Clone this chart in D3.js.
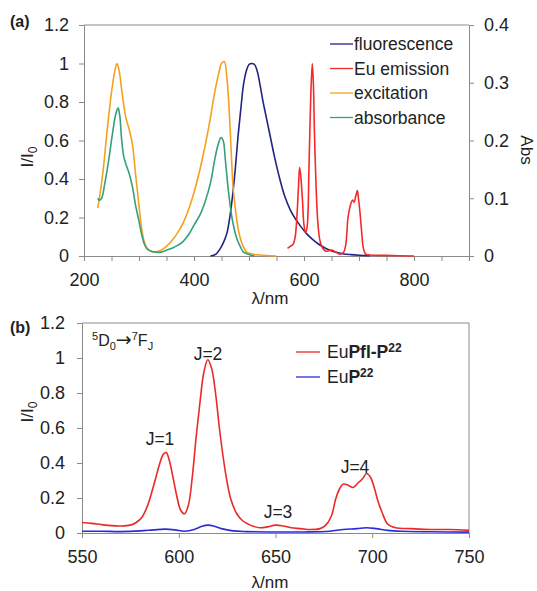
<!DOCTYPE html>
<meta charset="utf-8">
<script src="https://d3js.org/d3.v7.min.js"></script>
<style>
  body { margin: 0; background: #fff; }
  text { font-family: "Liberation Sans", Arial, sans-serif; fill: #222; }
</style>
<div id="my_dataviz"></div>
<script>

// ---- data ----
// panel (a): [wavelength nm, I/I0]
var fluorescence = [[430,0],[440,0.01],[448,0.04],[455,0.08],[460,0.12],[465,0.2],[470,0.31],[475,0.45],[480,0.62],[485,0.76],[490,0.89],[495,0.96],[500,0.995],[505,1.0],[510,0.995],[515,0.96],[520,0.89],[525,0.81],[530,0.74],[538,0.63],[546,0.52],[556,0.4],[565,0.31],[575,0.24],[585,0.19],[595,0.15],[605,0.115],[615,0.088],[625,0.065],[635,0.047],[645,0.032],[655,0.022],[670,0.012],[685,0.007],[700,0.004],[720,0.002]];
var euEmission = [[570,0.04],[575,0.05],[580,0.06],[584,0.1],[587,0.2],[590,0.36],[592,0.46],[594,0.42],[597,0.3],[600,0.16],[603,0.12],[606,0.16],[609,0.45],[612,0.8],[615,1.0],[617,0.9],[619,0.64],[622,0.36],[625,0.18],[629,0.08],[634,0.04],[640,0.025],[648,0.03],[652,0.03],[658,0.02],[665,0.01],[672,0.02],[676,0.06],[680,0.2],[684,0.26],[688,0.29],[691,0.28],[694,0.31],[697,0.34],[699,0.3],[702,0.22],[705,0.12],[708,0.04],[712,0.01],[720,0.005],[750,0.003],[800,0]];
var excitation = [[225,0.25],[228,0.3],[235,0.45],[242,0.65],[250,0.85],[256,0.96],[260,1.0],[264,0.96],[270,0.83],[276,0.72],[282,0.66],[288,0.58],[294,0.42],[300,0.26],[305,0.14],[310,0.07],[315,0.04],[322,0.025],[330,0.02],[340,0.03],[350,0.05],[360,0.08],[370,0.12],[380,0.17],[390,0.24],[400,0.33],[410,0.44],[420,0.57],[430,0.72],[437,0.84],[445,0.95],[450,1.0],[455,1.01],[460,0.92],[465,0.7],[468,0.52],[471,0.36],[475,0.25],[481,0.13],[488,0.06],[496,0.02],[505,0.01],[520,0.005],[550,0]];
var absorbance = [[225,0.3],[228,0.29],[232,0.3],[238,0.38],[245,0.5],[252,0.64],[258,0.74],[262,0.77],[265,0.73],[268,0.62],[272,0.52],[277,0.47],[282,0.43],[288,0.36],[294,0.26],[300,0.18],[305,0.11],[310,0.06],[315,0.035],[322,0.025],[330,0.02],[340,0.02],[350,0.03],[360,0.04],[370,0.055],[380,0.075],[390,0.11],[400,0.16],[412,0.22],[420,0.28],[430,0.38],[437,0.49],[443,0.57],[449,0.615],[453,0.6],[457,0.5],[461,0.38],[465,0.28],[469,0.2],[474,0.13],[478,0.09],[484,0.05],[490,0.02],[500,0.008],[510,0]];

// panel (b)
var euPflP22 = [[550,0.06],[555,0.055],[560,0.048],[565,0.042],[570,0.04],[575,0.045],[578,0.06],[581,0.09],[584,0.16],[587,0.27],[590,0.39],[592,0.45],[593.5,0.46],[595,0.42],[597,0.32],[599,0.21],[601,0.13],[603,0.11],[605,0.16],[607,0.32],[609,0.55],[611,0.75],[613,0.92],[615,0.99],[617,0.94],[619,0.8],[621,0.6],[623,0.43],[625,0.29],[627,0.19],[630,0.11],[633,0.07],[637,0.045],[642,0.03],[646,0.035],[650,0.045],[654,0.04],[658,0.03],[663,0.025],[668,0.02],[673,0.025],[676,0.045],[679,0.1],[681,0.19],[683,0.25],[685,0.28],[688,0.27],[690,0.26],[693,0.29],[695,0.31],[697,0.34],[699,0.32],[701,0.26],[703,0.18],[705,0.12],[708,0.05],[712,0.03],[720,0.025],[730,0.02],[740,0.02],[750,0.015]];
var euP22 = [[550,0.01],[560,0.01],[570,0.008],[580,0.012],[587,0.018],[593,0.022],[598,0.018],[603,0.01],[608,0.02],[612,0.038],[615,0.045],[618,0.04],[622,0.025],[628,0.012],[635,0.008],[650,0.006],[665,0.006],[678,0.01],[685,0.02],[692,0.025],[697,0.03],[702,0.025],[708,0.015],[715,0.01],[730,0.007],[750,0.005]];

var topLegend = ["fluorescence", "Eu emission", "excitation", "absorbance"];
var topColors = ["#232385", "#f52a2a", "#f4a21e", "#34a07c"];
var yTicks = [0, 0.2, 0.4, 0.6, 0.8, 1, 1.2];
var absTicks = [0, 0.1, 0.2, 0.3, 0.4];
var xTicksA = d3.range(200, 901, 50);
var xLabelsA = [200, 400, 600, 800];
var xTicksB = [550, 600, 650, 700, 750];

var width = 537, height = 591;
var svg = d3.select("#my_dataviz").append("svg")
    .attr("width", width).attr("height", height);

var grey = "#8a8a8a";
function styleAxis(g) {
  g.selectAll("path, line").attr("stroke", grey);
  g.selectAll("text").attr("font-size", 18).attr("fill", "#222")
    .style("font-family", "Liberation Sans, Arial, sans-serif");
}

// ===== panel (a) =====
var xA = d3.scaleLinear().domain([200, 900]).range([84, 469]);
var yA = d3.scaleLinear().domain([0, 1.2]).range([256, 25]);
var yAbs = d3.scaleLinear().domain([0, 0.4]).range([256, 25]);

svg.append("line").attr("x1", 84).attr("x2", 469).attr("y1", 25).attr("y2", 25).attr("stroke", grey);

svg.append("g").attr("transform", "translate(0,256)")
  .call(d3.axisBottom(xA).tickValues(xTicksA).tickSize(5).tickSizeOuter(0).tickPadding(12)
    .tickFormat(function(d){ return xLabelsA.indexOf(d) >= 0 ? d : ""; }))
  .call(styleAxis);
svg.append("g").attr("transform", "translate(84,0)")
  .call(d3.axisLeft(yA).tickValues(yTicks).tickSize(5).tickSizeOuter(0).tickPadding(10)
    .tickFormat(d3.format("~g")))
  .call(styleAxis);
svg.append("g").attr("transform", "translate(469,0)")
  .call(d3.axisRight(yAbs).tickValues(absTicks).tickSize(5).tickSizeOuter(0).tickPadding(10)
    .tickFormat(d3.format("~g")))
  .call(styleAxis);

var lineA = d3.line().x(function(d){ return xA(d[0]); }).y(function(d){ return yA(d[1]); })
  .curve(d3.curveCatmullRom);

[fluorescence, euEmission, excitation, absorbance].forEach(function(s, i) {
  svg.append("path").datum(s).attr("d", lineA)
    .attr("fill", "none").attr("stroke", topColors[i]).attr("stroke-width", 1.6)
    .attr("stroke-linejoin", "round");
});

topLegend.forEach(function(name, i) {
  var yy = 44 + i * 24.5;
  svg.append("line").attr("x1", 330).attr("x2", 353).attr("y1", yy).attr("y2", yy)
    .attr("stroke", topColors[i]).attr("stroke-width", 1.3);
  svg.append("text").attr("x", 354).attr("y", yy + 6).attr("font-size", 17.5).text(name);
});

svg.append("text").attr("x", 10).attr("y", 27).attr("font-size", 16).attr("font-weight", "bold").text("(a)");
svg.append("text").attr("x", 270).attr("y", 304).attr("font-size", 17).attr("text-anchor", "middle").text("λ/nm");
var yl = svg.append("text").attr("transform", "translate(33,157) rotate(-90)")
  .attr("font-size", 17).attr("text-anchor", "middle");
yl.append("tspan").text("I/I");
yl.append("tspan").attr("font-size", 12).attr("dy", 4).text("0");
svg.append("text").attr("transform", "translate(521,150) rotate(90)")
  .attr("font-size", 17).attr("text-anchor", "middle").text("Abs");

// ===== panel (b) =====
var xB = d3.scaleLinear().domain([550, 750]).range([82, 469]);
var yB = d3.scaleLinear().domain([0, 1.2]).range([533, 323]);

svg.append("line").attr("x1", 82).attr("x2", 469).attr("y1", 323).attr("y2", 323).attr("stroke", grey);
svg.append("line").attr("x1", 469).attr("x2", 469).attr("y1", 323).attr("y2", 533).attr("stroke", grey);

svg.append("g").attr("transform", "translate(0,533)")
  .call(d3.axisBottom(xB).tickValues(xTicksB).tickSize(5).tickSizeOuter(0).tickPadding(12))
  .call(styleAxis);
svg.append("g").attr("transform", "translate(82,0)")
  .call(d3.axisLeft(yB).tickValues(yTicks).tickSize(5).tickSizeOuter(0).tickPadding(12)
    .tickFormat(d3.format("~g")))
  .call(styleAxis);

var lineB = d3.line().x(function(d){ return xB(d[0]); }).y(function(d){ return yB(d[1]); })
  .curve(d3.curveCatmullRom);
svg.append("path").datum(euP22).attr("d", lineB).attr("fill", "none").attr("stroke", "#2a2ae0").attr("stroke-width", 1.6);
svg.append("path").datum(euPflP22).attr("d", lineB).attr("fill", "none").attr("stroke", "#ec2828").attr("stroke-width", 1.6);

// legend (b)
var lg1 = svg.append("text").attr("x", 327).attr("y", 358).attr("font-size", 17.5);
svg.append("line").attr("x1", 296).attr("x2", 320).attr("y1", 352).attr("y2", 352).attr("stroke", "#ec2828").attr("stroke-width", 1.3);
lg1.append("tspan").text("Eu");
lg1.append("tspan").attr("font-weight", "bold").text("Pfl-P");
lg1.append("tspan").attr("font-weight", "bold").attr("font-size", 12).attr("dy", -6).text("22");
var lg2 = svg.append("text").attr("x", 327).attr("y", 383).attr("font-size", 17.5);
svg.append("line").attr("x1", 296).attr("x2", 320).attr("y1", 377).attr("y2", 377).attr("stroke", "#2a2ae0").attr("stroke-width", 1.3);
lg2.append("tspan").text("Eu");
lg2.append("tspan").attr("font-weight", "bold").text("P");
lg2.append("tspan").attr("font-weight", "bold").attr("font-size", 12).attr("dy", -6).text("22");

// annotations
var tr = svg.append("text").attr("x", 92).attr("y", 346).attr("font-size", 16);
tr.append("tspan").attr("font-size", 11).attr("dy", -6).text("5");
tr.append("tspan").attr("dy", 6).text("D");
tr.append("tspan").attr("font-size", 11).attr("dy", 4).text("0");
tr.append("tspan").attr("dy", -4).style("font-family", "DejaVu Sans").attr("font-size", 19).text("→");
tr.append("tspan").attr("font-size", 11).attr("dy", -6).text("7");
tr.append("tspan").attr("dy", 6).text("F");
tr.append("tspan").attr("font-size", 11).attr("dy", 4).text("J");

var jLabels = [["J=1", 160, 445], ["J=2", 208, 360], ["J=3", 278, 518], ["J=4", 355, 473]];
jLabels.forEach(function(j) {
  svg.append("text").attr("x", j[1]).attr("y", j[2]).attr("font-size", 17.5)
    .attr("text-anchor", "middle").text(j[0]);
});

svg.append("text").attr("x", 10).attr("y", 333).attr("font-size", 16).attr("font-weight", "bold").text("(b)");
svg.append("text").attr("x", 270).attr("y", 588).attr("font-size", 17).attr("text-anchor", "middle").text("λ/nm");
var yl2 = svg.append("text").attr("transform", "translate(33,412) rotate(-90)")
  .attr("font-size", 17).attr("text-anchor", "middle");
yl2.append("tspan").text("I/I");
yl2.append("tspan").attr("font-size", 12).attr("dy", 4).text("0");

</script>
